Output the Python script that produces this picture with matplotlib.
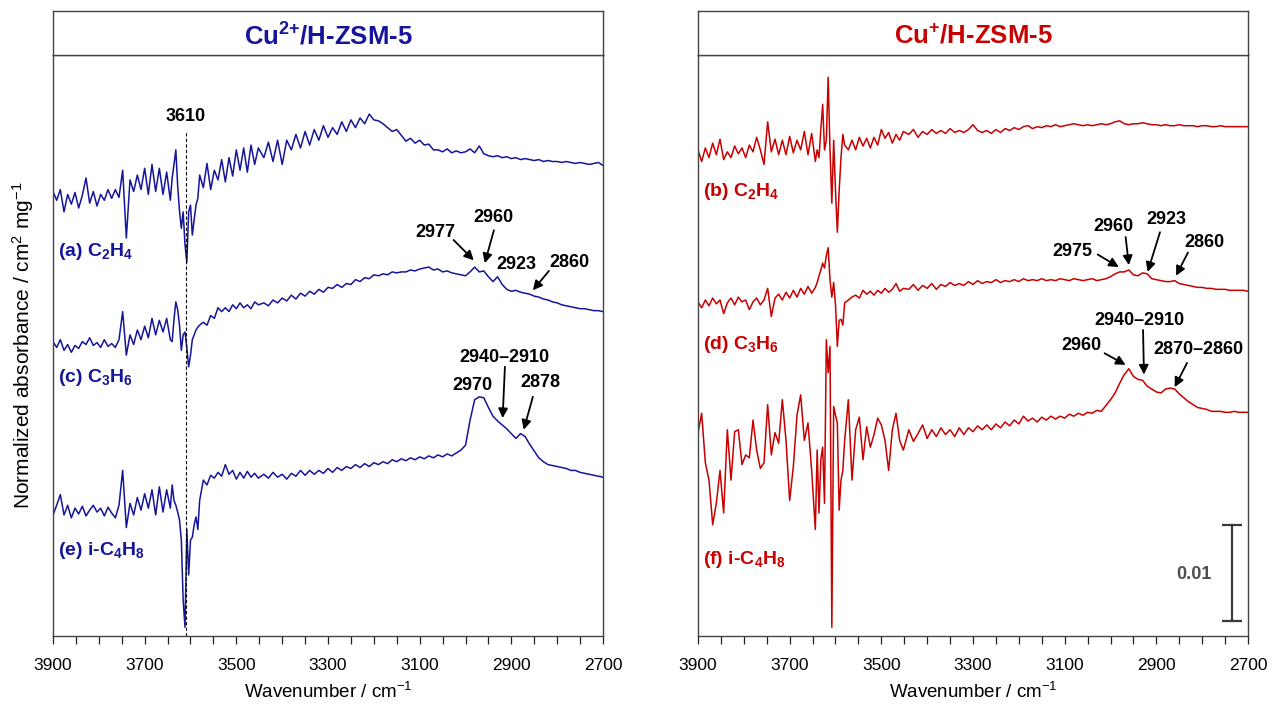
import matplotlib
matplotlib.use('Agg')
import matplotlib.pyplot as plt
from matplotlib.ticker import MultipleLocator
import numpy as np

plt.rcParams['font.family'] = ['Liberation Sans', 'DejaVu Sans']
plt.rcParams['mathtext.fontset'] = 'custom'
plt.rcParams['mathtext.rm'] = 'Liberation Sans'
plt.rcParams['mathtext.bf'] = 'Liberation Sans:bold'
plt.rcParams['mathtext.it'] = 'Liberation Sans:italic'

# wavenumber grid (cm-1), finer around the 3610 band
wn = np.concatenate([np.arange(3900, 3640, -8), np.arange(3640, 3580, -4),
                     np.arange(3580, 3450, -8), np.arange(3440, 2695, -10)])

# stacked spectra, absorbance in units of 1e-4 (stack offsets included)
a_c2h4 = [459, 450, 461, 438, 456, 446, 458, 442, 455, 473, 447, 459, 444, 456, 450, 461, 452,
          461, 453, 481, 411, 471, 459, 476, 461, 483, 456, 487, 459, 483, 456, 479, 450,
          473, 487, 502, 465, 439, 421, 438, 404, 386, 438, 445, 414, 430, 445, 452,
          476, 463, 488, 461, 481, 471, 492, 469, 494, 475, 502, 481, 504, 479, 507, 487, 504,
          494, 510, 490, 512, 487, 512, 502, 518, 504, 521, 507, 523, 512, 527, 515, 525, 518, 531, 521, 533,
          525, 535, 529, 539, 533, 532, 529, 525, 521, 523, 517, 511, 514, 509, 512, 507, 508, 502, 502, 500,
          503, 499, 501, 499, 500, 503, 499, 506, 498, 496, 495, 496, 494, 495, 493, 494, 492, 493, 492, 491,
          492, 490, 491, 490, 490, 489, 490, 489, 488, 489, 488, 487, 488, 489, 486]
c_c3h6 = [304, 298, 306, 295, 301, 293, 300, 297, 304, 301, 308, 300, 303, 298, 306, 299, 302,
          298, 306, 335, 290, 311, 301, 316, 306, 320, 308, 328, 311, 326, 314, 328, 306,
          304, 327, 345, 337, 321, 295, 311, 314, 298, 278, 290, 306, 311, 316, 319,
          321, 324, 321, 331, 328, 339, 335, 339, 335, 342, 338, 344, 339, 342, 338, 345, 342,
          344, 341, 347, 344, 349, 346, 352, 348, 354, 351, 356, 353, 358, 355, 360, 359, 363, 360, 364, 363,
          368, 366, 370, 369, 373, 372, 374, 373, 376, 375, 376, 376, 378, 377, 379, 380, 381, 378, 379, 376,
          377, 375, 374, 373, 372, 376, 381, 376, 377, 371, 366, 371, 363, 358, 356, 357, 355, 354, 353, 351,
          350, 348, 347, 345, 344, 342, 341, 340, 339, 338, 338, 337, 336, 336, 335]
e_c4h8 = [125, 135, 146, 125, 135, 122, 132, 126, 134, 124, 130, 135, 128, 132, 124, 133, 127,
          122, 135, 171, 112, 137, 125, 143, 130, 147, 132, 151, 125, 154, 128, 151, 132,
          156, 140, 135, 128, 120, 99, 37, 9, 110, 63, 99, 102, 115, 123, 110,
          140, 161, 156, 166, 163, 169, 165, 177, 167, 171, 162, 169, 163, 170, 164, 168, 163,
          167, 163, 169, 164, 167, 162, 168, 165, 171, 166, 171, 167, 171, 168, 173, 169, 174, 171, 175, 173,
          177, 174, 178, 175, 179, 177, 180, 178, 182, 180, 183, 181, 184, 182, 185, 183, 186, 184, 187, 185,
          188, 186, 189, 192, 197, 223, 244, 247, 246, 236, 227, 222, 218, 214, 209, 204, 209, 206, 198, 191,
          184, 180, 177, 176, 175, 174, 173, 171, 171, 169, 168, 167, 166, 165, 164]
b_c2h4 = [502, 490, 504, 494, 509, 497, 513, 492, 500, 494, 506, 498, 504, 494, 507, 500, 515,
          502, 487, 531, 500, 513, 497, 512, 497, 516, 499, 512, 502, 521, 497, 519, 490,
          502, 494, 523, 549, 502, 512, 577, 502, 447, 512, 460, 417, 460, 494, 518,
          507, 502, 512, 502, 515, 506, 514, 504, 515, 507, 523, 514, 520, 509, 518, 512, 521,
          518, 523, 515, 521, 518, 523, 519, 522, 519, 524, 520, 522, 520, 523, 528, 522, 520, 522, 519, 523,
          520, 524, 522, 525, 523, 526, 527, 524, 526, 525, 527, 526, 528, 526, 527, 528, 529, 528, 527, 528,
          527, 528, 529, 528, 529, 531, 532, 529, 528, 529, 529, 530, 529, 528, 528, 527, 528, 527, 527, 528,
          527, 527, 527, 526, 527, 527, 526, 526, 527, 526, 526, 526, 526, 526, 526]
d_c3h6 = [345, 339, 347, 341, 349, 343, 347, 333, 344, 349, 342, 350, 345, 347, 337, 345, 349,
          342, 347, 359, 330, 349, 353, 347, 355, 349, 357, 350, 359, 353, 361, 354, 360,
          365, 372, 378, 385, 380, 393, 401, 368, 350, 365, 342, 299, 326, 327, 321,
          344, 347, 350, 352, 349, 357, 353, 356, 352, 357, 354, 359, 355, 358, 364, 356, 359,
          358, 363, 357, 362, 359, 364, 358, 363, 361, 365, 362, 364, 362, 366, 363, 367, 364, 366, 365, 368,
          365, 367, 366, 368, 366, 369, 367, 368, 367, 369, 367, 368, 367, 369, 368, 367, 369, 368, 367, 368,
          369, 367, 368, 369, 371, 374, 376, 376, 378, 373, 372, 375, 374, 369, 368, 367, 366, 366, 367, 364,
          363, 362, 361, 360, 360, 359, 359, 358, 358, 358, 357, 357, 357, 357, 356]
f_c4h8 = [210, 230, 179, 161, 115, 137, 171, 127, 213, 161, 211, 213, 177, 187, 184, 223, 192,
          173, 179, 239, 187, 210, 199, 244, 202, 140, 175, 228, 249, 202, 220, 171, 110,
          192, 127, 182, 195, 137, 306, 272, 299, 9, 237, 228, 220, 130, 161, 171,
          202, 244, 161, 213, 226, 182, 216, 195, 208, 225, 218, 202, 171, 213, 230, 202, 192,
          213, 201, 209, 218, 204, 213, 206, 215, 208, 213, 206, 215, 208, 215, 211, 217, 213, 218, 213, 219,
          215, 221, 217, 223, 219, 227, 222, 225, 221, 226, 223, 227, 224, 227, 225, 229, 227, 230, 228, 231,
          230, 233, 232, 238, 244, 251, 261, 270, 276, 268, 265, 264, 258, 255, 252, 251, 255, 256, 255, 250,
          246, 242, 239, 236, 235, 234, 232, 232, 232, 231, 231, 232, 231, 231, 231]

left_labels = [r'(a) C$_\mathbf{2}$H$_\mathbf{4}$', r'(c) C$_\mathbf{3}$H$_\mathbf{6}$',
               r'(e) i-C$_\mathbf{4}$H$_\mathbf{8}$']
right_labels = [r'(b) C$_\mathbf{2}$H$_\mathbf{4}$', r'(d) C$_\mathbf{3}$H$_\mathbf{6}$',
                r'(f) i-C$_\mathbf{4}$H$_\mathbf{8}$']
left_label_y = [397, 267, 88]
right_label_y = [459, 301, 79]

# peak marks: (label, text position, arrow tail, arrow head)
left_peaks = [('3610', (3610, 537), None, None),
              ('2977', (3065, 417), (3026, 409), (2982, 388)),
              ('2960', (2938, 432), (2938, 419), (2958, 385)),
              ('2923', (2890, 384), None, None),
              ('2860', (2774, 386), (2818, 377), (2853, 357)),
              ('2940–2910', (2916, 288), (2914, 278), (2919, 225)),
              ('2970', (2984, 259), None, None),
              ('2878', (2836, 262), (2853, 247), (2873, 213))]
right_peaks = [('2975', (3083, 397), (3028, 394), (2982, 381)),
               ('2960', (2993, 423), (2967, 412), (2960, 383)),
               ('2923', (2879, 430), (2892, 417), (2919, 376)),
               ('2860', (2796, 406), (2831, 396), (2857, 372)),
               ('2940–2910', (2936, 326), (2929, 316), (2927, 270)),
               ('2960', (3063, 300), (3013, 292), (2967, 280)),
               ('2870–2860', (2809, 296), (2833, 282), (2860, 257))]

blue = '#15159a'
red = '#c80000'
W, H = 1278, 704

fig = plt.figure(figsize=(12.78, 7.04), dpi=100)


def panel(x0, title, color, spectra, labels, label_y, peaks):
    ax = fig.add_axes([x0 / W, 1 - 636 / H, 550 / W, 581 / H])
    for spec in spectra:
        ax.plot(wn, spec, color=color, lw=1.1)
    ax.set_xlim(3900, 2700)
    ax.set_ylim(0, 600)
    ax.set_xticks(np.arange(3900, 2699, -200))
    ax.xaxis.set_minor_locator(MultipleLocator(50))
    ax.tick_params(axis='x', which='both', direction='out', length=6, width=0.9,
                   labelsize=12.5, pad=10, color='#222222')
    ax.set_yticks([])
    for s in ax.spines.values():
        s.set_color('#444444')
        s.set_linewidth(1.0)
    ax.set_xlabel(r'Wavenumber / cm$^{-1}$', fontsize=13.5, labelpad=6)
    for lab, y in zip(labels, label_y):
        ax.text(3889, y, lab, color=color, fontsize=14, fontweight='bold',
                ha='left', va='center')
    for lab, txy, tail, head in peaks:
        ax.text(txy[0], txy[1], lab, fontsize=13, fontweight='bold',
                ha='center', va='center')
        if tail is not None:
            ax.annotate('', xy=head, xytext=tail,
                        arrowprops=dict(arrowstyle='-|>', color='k', lw=1.3,
                                        mutation_scale=14, shrinkA=0, shrinkB=0))
    tax = fig.add_axes([x0 / W, 1 - 55 / H, 550 / W, 44 / H])
    tax.set_xticks([])
    tax.set_yticks([])
    for s in tax.spines.values():
        s.set_color('#444444')
        s.set_linewidth(1.0)
    tax.text(0.5, 0.42, title, color=color, fontsize=18.5, fontweight='bold',
             ha='center', va='center', transform=tax.transAxes)
    return ax


axl = panel(53, r'Cu$^{\mathbf{2{+}}}$/H-ZSM-5', blue, [a_c2h4, c_c3h6, e_c4h8],
            left_labels, left_label_y, left_peaks)
axl.plot([3610, 3610], [0, 521], color='k', lw=0.8, ls=(0, (3, 2)))
axl.set_ylabel(r'Normalized absorbance / cm$^2$ mg$^{-1}$', fontsize=15, labelpad=12)

axr = panel(698, r'Cu$^{\mathbf{{+}}}$/H-ZSM-5', red, [b_c2h4, d_c3h6, f_c4h8],
            right_labels, right_label_y, right_peaks)

# 0.01 absorbance scale bar
axr.plot([2735, 2735], [15, 115], color='#3a3a3a', lw=1.6)
axr.plot([2735, 2735], [15, 115], color='#3a3a3a', lw=0, marker='_', ms=14, mew=1.6)
axr.text(2818, 63, '0.01', color='#505050', fontsize=13, fontweight='bold',
         ha='center', va='center')

fig.savefig('out.png', dpi=100)
